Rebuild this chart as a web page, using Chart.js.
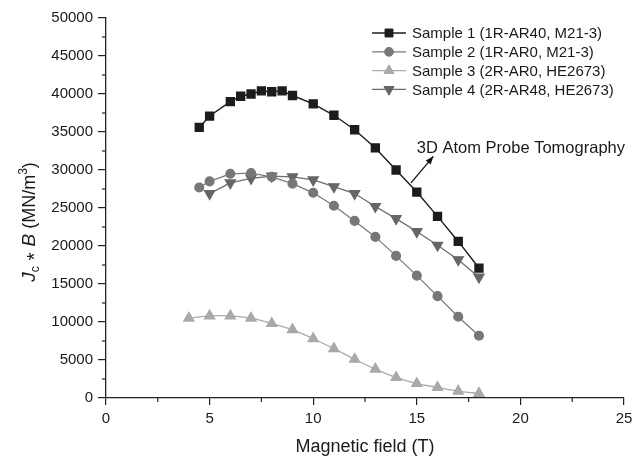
<!DOCTYPE html>
<html><head><meta charset="utf-8">
<script src="https://cdn.jsdelivr.net/npm/chart.js@4.4.1/dist/chart.umd.min.js"></script>
<style>html,body{margin:0;padding:0;background:#fff}#wrap{width:643px;height:458px;position:relative}</style>
</head><body><div id="wrap"><canvas id="c"></canvas></div>
<script>
const FONT = "'Liberation Sans', Arial, sans-serif";
const seriesLabels = [
  "Sample 1 (1R-AR40, M21-3)",
  "Sample 2 (1R-AR0, M21-3)",
  "Sample 3 (2R-AR0, HE2673)",
  "Sample 4 (2R-AR48, HE2673)"
];
const s1x = [4.5, 5, 6, 6.5, 7, 7.5, 8, 8.5, 9, 10, 11, 12, 13, 14, 15, 16, 17, 18];
const s1y = [35600, 37100, 39000, 39700, 40000, 40400, 40300, 40400, 39800, 38700, 37200, 35300, 32900, 30000, 27100, 23900, 20600, 17100];
const s2x = [4.5, 5, 6, 7, 8, 9, 10, 11, 12, 13, 14, 15, 16, 17, 18];
const s2y = [27700, 28500, 29500, 29600, 29100, 28200, 27000, 25300, 23300, 21200, 18700, 16100, 13400, 10700, 8200];
const s3x = [4, 5, 6, 7, 8, 9, 10, 11, 12, 13, 14, 15, 16, 17, 18];
const s3y = [10500, 10800, 10800, 10500, 9800, 9000, 7800, 6500, 5100, 3800, 2700, 1900, 1400, 900, 600];
const s4x = [5, 6, 7, 8, 9, 10, 11, 12, 13, 14, 15, 16, 17, 18];
const s4y = [26900, 28300, 28900, 29200, 29100, 28700, 27800, 26900, 25200, 23600, 21900, 20100, 18200, 15900];
const xTickLabels = [0, 5, 10, 15, 20, 25];
const yTickLabels = [0, 5000, 10000, 15000, 20000, 25000, 30000, 35000, 40000, 45000, 50000];
const annotationText = "3D Atom Probe Tomography";
const arrowFrom = [14.72, 28300];
const arrowTo = [15.8, 31800];
const annotationAt = [15.0, 32300];

const pts = (xs, ys) => xs.map((x, i) => ({x, y: ys[i]}));

const legendPlugin = {
  id: 'customLegend',
  afterDraw(chart) {
    const ctx = chart.ctx;
    ctx.save();
    chart.data.datasets.forEach((ds, i) => {
      const y = 33 + i * 18.8;
      ctx.strokeStyle = ds.borderColor;
      ctx.lineWidth = ds.borderWidth;
      ctx.beginPath(); ctx.moveTo(372, y); ctx.lineTo(406, y); ctx.stroke();
      ctx.fillStyle = ds.pointBackgroundColor;
      ctx.strokeStyle = ds.pointBorderColor;
      ctx.lineWidth = 1;
      Chart.helpers.drawPoint(ctx, {pointStyle: ds.pointStyle, rotation: ds.pointRotation || 0, radius: ds.pointRadius, borderWidth: 1}, 389, y);
      ctx.fillStyle = '#1a1a1a';
      ctx.font = '15px ' + FONT;
      ctx.textBaseline = 'middle';
      ctx.textAlign = 'left';
      ctx.fillText(ds.label, 412, y + 1);
    });
    ctx.restore();
  }
};

const decoPlugin = {
  id: 'deco',
  afterDraw(chart) {
    const ctx = chart.ctx, xs = chart.scales.x, ys = chart.scales.y;
    ctx.save();
    ctx.strokeStyle = '#222'; ctx.lineWidth = 1.2;
    for (let v = 2.5; v < 25; v += 5) {
      const px = xs.getPixelForValue(v);
      ctx.beginPath(); ctx.moveTo(px, ys.bottom); ctx.lineTo(px, ys.bottom + 4); ctx.stroke();
    }
    for (let v = 2500; v < 50000; v += 5000) {
      const py = ys.getPixelForValue(v);
      ctx.beginPath(); ctx.moveTo(xs.left, py); ctx.lineTo(xs.left - 4, py); ctx.stroke();
    }
    const x1 = xs.getPixelForValue(arrowFrom[0]), y1 = ys.getPixelForValue(arrowFrom[1]);
    const x2 = xs.getPixelForValue(arrowTo[0]), y2 = ys.getPixelForValue(arrowTo[1]);
    ctx.strokeStyle = '#111'; ctx.fillStyle = '#111'; ctx.lineWidth = 1.3;
    ctx.beginPath(); ctx.moveTo(x1, y1); ctx.lineTo(x2, y2); ctx.stroke();
    const ang = Math.atan2(y2 - y1, x2 - x1), L = 8, W = 3.2;
    ctx.beginPath();
    ctx.moveTo(x2, y2);
    ctx.lineTo(x2 - L * Math.cos(ang) + W * Math.sin(ang), y2 - L * Math.sin(ang) - W * Math.cos(ang));
    ctx.lineTo(x2 - L * Math.cos(ang) - W * Math.sin(ang), y2 - L * Math.sin(ang) + W * Math.cos(ang));
    ctx.closePath(); ctx.fill();
    ctx.font = '16.5px ' + FONT; ctx.textAlign = 'left'; ctx.textBaseline = 'alphabetic';
    ctx.fillStyle = '#1a1a1a';
    ctx.fillText(annotationText, xs.getPixelForValue(annotationAt[0]), ys.getPixelForValue(annotationAt[1]));
    const pieces = [
      {t: 'J', f: 'italic 19px ' + FONT, dy: 0},
      {t: 'c', f: '12px ' + FONT, dy: 4},
      {t: ' * ', f: '21px ' + FONT, dy: 6},
      {t: 'B', f: 'italic 19px ' + FONT, dy: 0},
      {t: ' (MN/m', f: '18px ' + FONT, dy: 0},
      {t: '3', f: '12px ' + FONT, dy: -8},
      {t: ')', f: '18px ' + FONT, dy: 0}
    ];
    let total = 0;
    pieces.forEach(p => { ctx.font = p.f; p.w = ctx.measureText(p.t).width; total += p.w; });
    ctx.translate(35, 222); ctx.rotate(-Math.PI / 2);
    let cx = -total / 2;
    ctx.fillStyle = '#1a1a1a'; ctx.textBaseline = 'alphabetic';
    pieces.forEach(p => { ctx.font = p.f; ctx.fillText(p.t, cx, p.dy); cx += p.w; });
    ctx.restore();
  }
};

new Chart(document.getElementById('c'), {
  type: 'line',
  data: {
    datasets: [
      {label: seriesLabels[0], data: pts(s1x, s1y), borderColor: '#1c1c1c', backgroundColor: '#1c1c1c', pointBackgroundColor: '#1c1c1c', pointBorderColor: '#1c1c1c', borderWidth: 1.4, pointStyle: 'rect', pointRadius: 5.6, pointRotation: 0, tension: 0},
      {label: seriesLabels[1], data: pts(s2x, s2y), borderColor: '#7a7a7a', backgroundColor: '#7a7a7a', pointBackgroundColor: '#777777', pointBorderColor: '#777777', borderWidth: 1.3, pointStyle: 'circle', pointRadius: 4.4, pointRotation: 0, tension: 0},
      {label: seriesLabels[2], data: pts(s3x, s3y), borderColor: '#ababab', backgroundColor: '#ababab', pointBackgroundColor: '#a9a9a9', pointBorderColor: '#a9a9a9', borderWidth: 1.3, pointStyle: 'triangle', pointRadius: 5.8, pointRotation: 0, tension: 0.3},
      {label: seriesLabels[3], data: pts(s4x, s4y), borderColor: '#6c6c6c', backgroundColor: '#6c6c6c', pointBackgroundColor: '#666666', pointBorderColor: '#666666', borderWidth: 1.3, pointStyle: 'triangle', pointRadius: 5.8, pointRotation: 180, tension: 0}
    ]
  },
  options: {
    responsive: true, maintainAspectRatio: false, animation: false,
    layout: {padding: {top: 18, right: 19, left: 0, bottom: 0}},
    plugins: {legend: {display: false}, tooltip: {enabled: false}},
    scales: {
      x: {
        type: 'linear', min: 0, max: 25,
        afterFit(s) { s.height = 60; },
        afterBuildTicks(s) { s.ticks = xTickLabels.map(v => ({value: v})); },
        grid: {drawOnChartArea: false, tickLength: 7, color: '#222', lineWidth: 1.2},
        border: {display: true, color: '#222', width: 1.3},
        ticks: {font: {family: FONT, size: 15}, color: '#1a1a1a', padding: 5, maxRotation: 0, callback: v => String(v)},
        title: {display: true, text: 'Magnetic field (T)', font: {family: FONT, size: 18}, color: '#1a1a1a', padding: {top: 4, bottom: 0}}
      },
      y: {
        type: 'linear', min: 0, max: 50000,
        afterFit(s) { s.width = 106; },
        afterBuildTicks(s) { s.ticks = yTickLabels.map(v => ({value: v})); },
        grid: {drawOnChartArea: false, tickLength: 8, color: '#222', lineWidth: 1.2},
        border: {display: true, color: '#222', width: 1.3},
        ticks: {font: {family: FONT, size: 15}, color: '#1a1a1a', padding: 5, callback: v => String(v)}
      }
    }
  },
  plugins: [legendPlugin, decoPlugin]
});
</script></body></html>
